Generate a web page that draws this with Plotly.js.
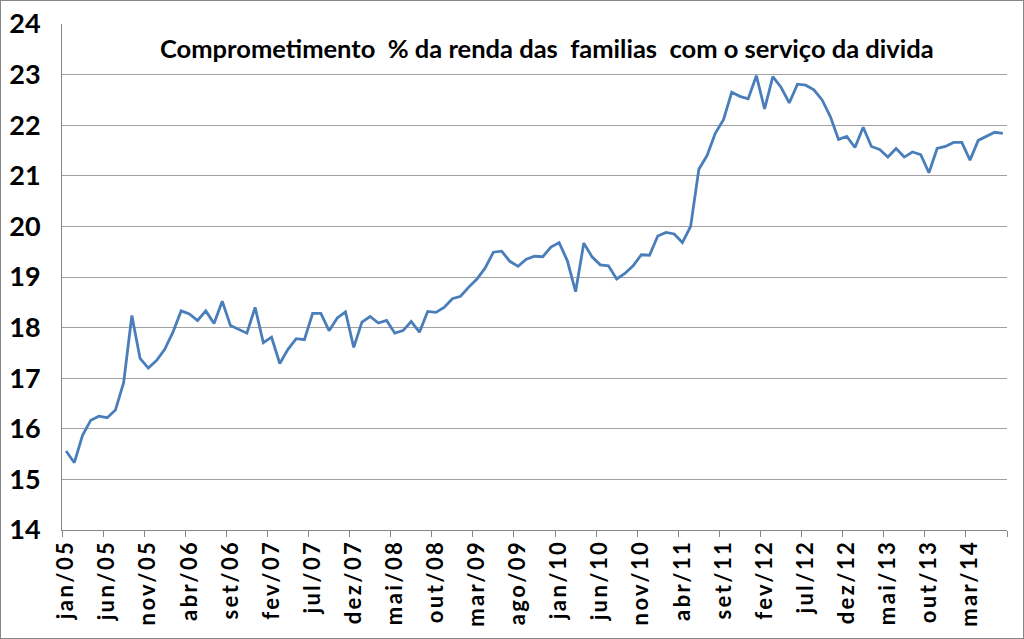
<!DOCTYPE html>
<html>
<head>
<meta charset="utf-8">
<script src="https://cdn.plot.ly/plotly-3.0.1.min.js"></script>
<style>
  html, body { margin: 0; padding: 0; background: #fff; }
  #wrap { position: relative; width: 1024px; height: 639px; }
  #chart { width: 1024px; height: 639px; }
  #frame { position: absolute; left: 0; top: 0; width: 1024px; height: 639px; box-sizing: border-box; border: 1px solid #868686; pointer-events: none; }
  #chart .xtick text { letter-spacing: 2.4px; }
</style>
</head>
<body>
<div id="wrap"><div id="chart"></div><div id="frame"></div></div>
<script>
// Month abbreviations (pt-BR) and years covered: jan/05 .. jul/14
const monthNames = ["jan","fev","mar","abr","mai","jun","jul","ago","set","out","nov","dez"];
const startYear = 2005;
const nPoints = 115;

// Comprometimento % da renda das familias com o serviço da divida
const values = [
  15.56, 15.33, 15.87, 16.17, 16.25, 16.22, 16.37, 16.91, 18.24, 17.39,
  17.20, 17.35, 17.57, 17.91, 18.33, 18.27, 18.14, 18.33, 18.08, 18.52,
  18.04, 17.97, 17.89, 18.40, 17.70, 17.81, 17.29, 17.57, 17.78, 17.76,
  18.28, 18.28, 17.94, 18.19, 18.31, 17.61, 18.11, 18.22, 18.09, 18.14,
  17.89, 17.94, 18.12, 17.91, 18.32, 18.30, 18.40, 18.57, 18.62, 18.80,
  18.96, 19.18, 19.49, 19.51, 19.31, 19.21, 19.35, 19.41, 19.40, 19.59,
  19.68, 19.32, 18.71, 19.67, 19.40, 19.24, 19.22, 18.96, 19.07, 19.22,
  19.44, 19.43, 19.81, 19.88, 19.85, 19.68, 20.00, 21.13, 21.40, 21.84,
  22.11, 22.65, 22.57, 22.52, 22.98, 22.32, 22.96, 22.75, 22.44, 22.81,
  22.79, 22.70, 22.50, 22.17, 21.72, 21.78, 21.56, 21.96, 21.58, 21.52,
  21.37, 21.54, 21.37, 21.47, 21.42, 21.06, 21.54, 21.58, 21.66, 21.66,
  21.31, 21.70, 21.78, 21.86, 21.84
];

const categories = [];
for (let i = 0; i < nPoints; i++) {
  const m = i % 12, y = startYear + Math.floor(i / 12);
  categories.push(monthNames[m] + "/" + String(y % 100).padStart(2, "0"));
}

const yTicks = [14, 15, 16, 17, 18, 19, 20, 21, 22, 23, 24];
const titleText = "Comprometimento\u00a0 % da renda das\u00a0 familias\u00a0 com o serviço da divida";

const FONT = "Lato, 'Open Sans', sans-serif";

const trace = {
  type: "scatter",
  mode: "lines",
  x: categories,
  y: values,
  line: { color: "#4a7ebb", width: 2.8 },
  hoverinfo: "x+y"
};

const layout = {
  width: 1024,
  height: 639,
  margin: { l: 62, r: 17, t: 24, b: 109 },
  paper_bgcolor: "#ffffff",
  plot_bgcolor: "#ffffff",
  showlegend: false,
  xaxis: {
    type: "category",
    categoryorder: "array",
    categoryarray: categories,
    range: [-0.5, nPoints - 0.5],
    tickmode: "linear",
    tick0: 0,
    dtick: 5,
    tickson: "boundaries",
    ticks: "outside",
    ticklen: 6,
    tickcolor: "#868686",
    tickangle: -90,
    showgrid: false,
    showline: true,
    linecolor: "#868686",
    linewidth: 1,
    zeroline: false,
    tickfont: { family: FONT, size: 22, color: "#000" }
  },
  yaxis: {
    range: [14, 24],
    tickvals: yTicks,
    ticktext: yTicks.map(String),
    ticks: "",
    showgrid: true,
    gridcolor: "#a0a0a0",
    gridwidth: 1,
    showline: true,
    linecolor: "#868686",
    linewidth: 1,
    zeroline: false,
    ticklabelstandoff: 15,
    tickfont: { family: FONT, size: 27, color: "#000" }
  },
  annotations: [{
    text: "<b>" + titleText + "</b>",
    xref: "paper", yref: "paper",
    x: 0.5135, y: 0.952,
    xanchor: "center", yanchor: "middle",
    showarrow: false,
    font: { family: FONT, size: 25.5, color: "#000" }
  }]
};

Plotly.newPlot("chart", [trace], layout, { displayModeBar: false, staticPlot: true }).then(() => {
  // bold tick labels
  document.querySelectorAll(".xtick text, .ytick text").forEach(t => t.style.fontWeight = "bold");
});
</script>
</body>
</html>
